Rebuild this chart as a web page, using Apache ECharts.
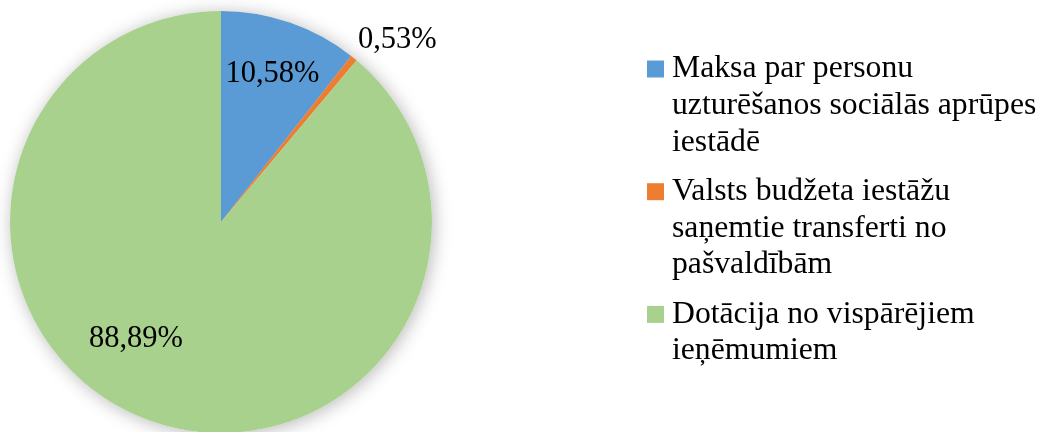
<!DOCTYPE html>
<html>
<head>
<meta charset="utf-8">
<script src="https://cdn.jsdelivr.net/npm/echarts@6/dist/echarts.min.js"></script>
<style>
  html, body { margin: 0; padding: 0; background: #fff; }
  #chart { width: 1042px; height: 432px; }
</style>
</head>
<body>
<div id="chart"></div>
<script>
// Income structure pie (percent shares), legend on the right.
const categories = [
  "Maksa par personu\nuzturēšanos sociālās aprūpes\niestādē",
  "Valsts budžeta iestāžu\nsaņemtie transferti no\npašvaldībām",
  "Dotācija no vispārējiem\nieņēmumiem"
];
const shares = [10.58, 0.53, 88.89];
const colors = ["#5B9BD5", "#ED7D31", "#A9D18E"];

// label nudges from the default "inside" spot, roughly where Excel put them
const labelNudge = [[16, -45], [108, -98], [-48, 15]];

const FONT = "'Liberation Serif', 'Times New Roman', serif";
const LINE_H = 36.6;

const chart = echarts.init(document.getElementById("chart"), null, { renderer: "canvas" });

const rich = {
  t: { fontFamily: FONT, fontSize: 31.7, color: "#000", lineHeight: LINE_H },
  sp: { width: 8, lineHeight: LINE_H },
  ind: { width: 25, lineHeight: LINE_H }
};
colors.forEach((c, i) => {
  rich["sq" + i] = { width: 17, height: 17, backgroundColor: c, lineHeight: LINE_H };
});

const pieData = categories.map((name, i) => ({
  name,
  value: shares[i],
  itemStyle: { color: colors[i] }
}));

chart.setOption({
  animation: false,
  backgroundColor: "#fff",
  legend: {
    orient: "vertical",
    left: 642,
    top: 53,
    padding: 0,
    itemGap: 17.5,
    itemWidth: 0,
    itemHeight: 0,
    selectedMode: false,
    data: categories,
    textStyle: { fontFamily: FONT, fontSize: 31.7, color: "#000", rich },
    formatter: (name) => {
      const idx = categories.indexOf(name);
      const lines = name.split("\n");
      return lines
        .map((ln, k) => (k === 0 ? `{sq${idx}|}{sp|}{t|${ln}}` : `{ind|}{t|${ln}}`))
        .join("\n");
    }
  },
  series: [
    {
      // white under-layer that only carries the soft drop shadow
      type: "pie",
      silent: true,
      z: 1,
      center: [221, 222],
      radius: 211,
      startAngle: 90,
      clockwise: true,
      label: { show: false },
      labelLine: { show: false },
      itemStyle: {
        color: "#fff",
        shadowBlur: 18,
        shadowColor: "rgba(0,0,0,0.28)",
        shadowOffsetX: 2,
        shadowOffsetY: 2
      },
      data: shares.map((v, i) => ({ name: "_" + i, value: v }))
    },
    {
      type: "pie",
      z: 2,
      center: [221, 222],
      radius: 211,
      startAngle: 90,
      clockwise: true,
      avoidLabelOverlap: false,
      minShowLabelAngle: 0,
      itemStyle: { borderWidth: 0 },
      label: {
        show: true,
        position: "inside",
        fontFamily: FONT,
        fontSize: 30.5,
        color: "#000",
        formatter: (p) => p.value.toFixed(2).replace(".", ",") + "%"
      },
      labelLine: { show: false },
      labelLayout: (p) => ({ dx: labelNudge[p.dataIndex][0], dy: labelNudge[p.dataIndex][1] }),
      emphasis: { disabled: true },
      data: pieData
    }
  ]
});
</script>
</body>
</html>
